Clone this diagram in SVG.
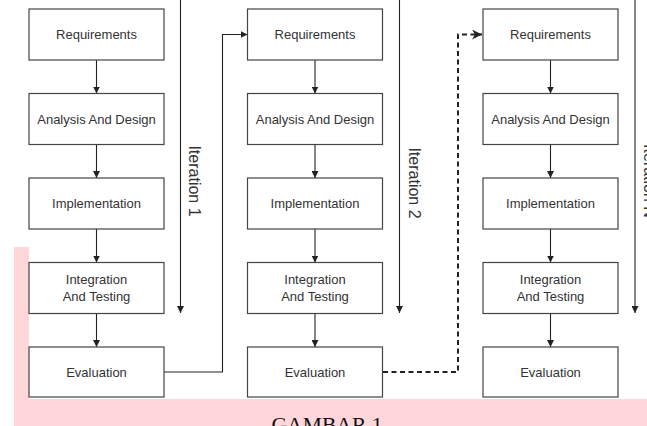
<svg xmlns="http://www.w3.org/2000/svg" width="647" height="426" viewBox="0 0 647 426">
<style>
.box{fill:#fff;stroke:#444;stroke-width:1.2}
.t{font-family:"Liberation Sans",Arial,sans-serif;font-size:13px;fill:#333;text-anchor:middle}
.it{font-family:"Liberation Sans",Arial,sans-serif;font-size:16px;fill:#333;text-anchor:middle}
.c{fill:none;stroke:#222;stroke-width:1.1}
.d{fill:none;stroke:#222;stroke-width:2;stroke-dasharray:5 3.5}
</style>
<defs>
<marker id="ah" viewBox="0 0 10 10" refX="10" refY="5" markerWidth="7" markerHeight="7" markerUnits="userSpaceOnUse" orient="auto">
<path d="M0,0 L10,5 L0,10 Z" fill="#222"/>
</marker>
<marker id="ahd" viewBox="0 0 10 10" refX="10" refY="5" markerWidth="5" markerHeight="5" orient="auto">
<path d="M0,0 L10,5 L0,10 L3,5 Z" fill="#222"/>
</marker>
</defs>
<rect x="14" y="247" width="15" height="152" fill="#FFD6DA"/>
<rect x="14" y="399" width="633" height="27" fill="#FFD6DA"/>
<text x="327" y="432" font-family="'Liberation Serif','Times New Roman',serif" font-size="21.6" fill="#111" text-anchor="middle">GAMBAR 1</text>
<g id="connectors">
<path class="c" d="M96.5,60 V93.5" marker-end="url(#ah)"/>
<path class="c" d="M96.5,144.5 V178" marker-end="url(#ah)"/>
<path class="c" d="M96.5,229 V262.5" marker-end="url(#ah)"/>
<path class="c" d="M96.5,313.5 V347" marker-end="url(#ah)"/>
<path class="c" d="M315,60 V93.5" marker-end="url(#ah)"/>
<path class="c" d="M315,144.5 V178" marker-end="url(#ah)"/>
<path class="c" d="M315,229 V262.5" marker-end="url(#ah)"/>
<path class="c" d="M315,313.5 V347" marker-end="url(#ah)"/>
<path class="c" d="M550.5,60 V93.5" marker-end="url(#ah)"/>
<path class="c" d="M550.5,144.5 V178" marker-end="url(#ah)"/>
<path class="c" d="M550.5,229 V262.5" marker-end="url(#ah)"/>
<path class="c" d="M550.5,313.5 V347" marker-end="url(#ah)"/>
<path class="c" d="M180.5,0 V313" marker-end="url(#ah)"/>
<path class="c" d="M399.5,0 V313" marker-end="url(#ah)"/>
<path class="c" d="M635,0 V313" marker-end="url(#ah)"/>
<path class="c" d="M164,372 H222.5 V34.5 H247.5" marker-end="url(#ah)"/>
<path class="d" d="M383,372 H458 V34.5 H482" marker-end="url(#ahd)"/>
</g>
<g id="iter1"><text class="it" transform="translate(194,181) rotate(90)" y="5.5">Iteration 1</text></g>
<g id="iter2"><text class="it" transform="translate(414,183) rotate(90)" y="5.5">Iteration 2</text></g>
<g id="iterN"><text class="it" transform="translate(649,181) rotate(90)" y="5.5">Iteration N</text></g>
<g id="req1"><rect class="box" x="29" y="9" width="135" height="51"/><text class="t" x="96.5" y="39">Requirements</text></g>
<g id="ana1"><rect class="box" x="29" y="93.5" width="135" height="51"/><text class="t" x="96.5" y="123.5">Analysis And Design</text></g>
<g id="imp1"><rect class="box" x="29" y="178" width="135" height="51"/><text class="t" x="96.5" y="208">Implementation</text></g>
<g id="int1"><rect class="box" x="29" y="262.5" width="135" height="51"/><text class="t" x="96.5" y="284">Integration</text><text class="t" x="96.5" y="301">And Testing</text></g>
<g id="eval1"><rect class="box" x="29" y="347" width="135" height="50"/><text class="t" x="96.5" y="377">Evaluation</text></g>
<g id="req2"><rect class="box" x="247.5" y="9" width="135" height="51"/><text class="t" x="315" y="39">Requirements</text></g>
<g id="ana2"><rect class="box" x="247.5" y="93.5" width="135" height="51"/><text class="t" x="315" y="123.5">Analysis And Design</text></g>
<g id="imp2"><rect class="box" x="247.5" y="178" width="135" height="51"/><text class="t" x="315" y="208">Implementation</text></g>
<g id="int2"><rect class="box" x="247.5" y="262.5" width="135" height="51"/><text class="t" x="315" y="284">Integration</text><text class="t" x="315" y="301">And Testing</text></g>
<g id="eval2"><rect class="box" x="247.5" y="347" width="135" height="50"/><text class="t" x="315" y="377">Evaluation</text></g>
<g id="req3"><rect class="box" x="483" y="9" width="135" height="51"/><text class="t" x="550.5" y="39">Requirements</text></g>
<g id="ana3"><rect class="box" x="483" y="93.5" width="135" height="51"/><text class="t" x="550.5" y="123.5">Analysis And Design</text></g>
<g id="imp3"><rect class="box" x="483" y="178" width="135" height="51"/><text class="t" x="550.5" y="208">Implementation</text></g>
<g id="int3"><rect class="box" x="483" y="262.5" width="135" height="51"/><text class="t" x="550.5" y="284">Integration</text><text class="t" x="550.5" y="301">And Testing</text></g>
<g id="eval3"><rect class="box" x="483" y="347" width="135" height="50"/><text class="t" x="550.5" y="377">Evaluation</text></g>
</svg>
